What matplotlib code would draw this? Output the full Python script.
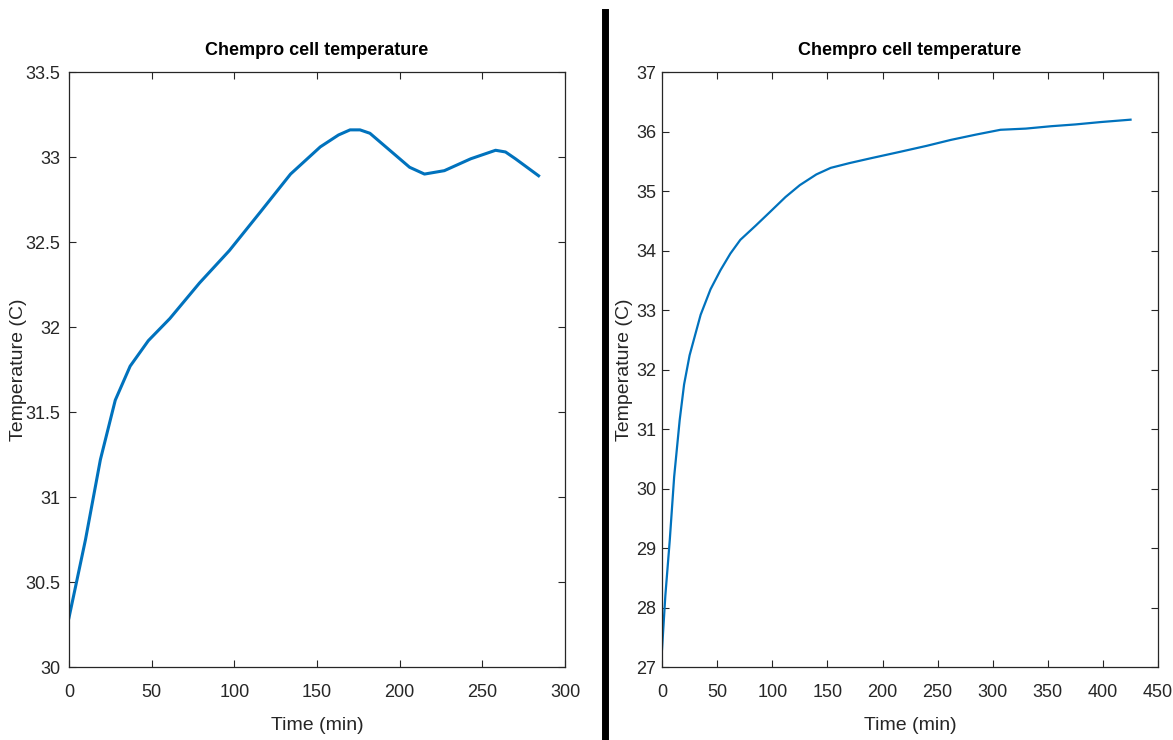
import matplotlib.pyplot as plt
from matplotlib.lines import Line2D

# left run
t_left = [0, 5, 10, 19, 28, 37, 48, 61, 79, 97, 116, 134, 152, 163, 170, 176, 182, 194, 206, 215, 227, 243, 258, 264, 270, 284]
temp_left = [30.29, 30.52, 30.75, 31.22, 31.57, 31.77, 31.92, 32.05, 32.26, 32.45, 32.68, 32.90, 33.06, 33.13, 33.16, 33.16, 33.14, 33.04, 32.94, 32.90, 32.92, 32.99, 33.04, 33.03, 32.99, 32.89]

# right run
t_right = [0, 3, 7, 11, 16, 20, 25, 35, 44, 53, 62, 71, 85, 98, 112, 125, 140, 153, 170, 189, 216, 240, 262, 285, 307, 330, 353, 375, 398, 425]
temp_right = [27.3, 28.2, 29.13, 30.2, 31.15, 31.75, 32.24, 32.92, 33.35, 33.67, 33.95, 34.18, 34.42, 34.65, 34.9, 35.1, 35.28, 35.39, 35.47, 35.55, 35.66, 35.76, 35.86, 35.95, 36.03, 36.05, 36.09, 36.12, 36.16, 36.2]

left_ticks_y = [30, 30.5, 31, 31.5, 32, 32.5, 33, 33.5]
left_ticks_x = [0, 50, 100, 150, 200, 250, 300]
right_ticks_y = [27, 28, 29, 30, 31, 32, 33, 34, 35, 36, 37]
right_ticks_x = [0, 50, 100, 150, 200, 250, 300, 350, 400, 450]

plt.rcParams['font.family'] = ['Liberation Sans', 'DejaVu Sans']
blue = '#0072BD'
grey = '#262626'

fig = plt.figure(figsize=(11.73, 7.40), dpi=100)
ax1 = fig.add_axes([0.0588, 0.0986, 0.4229, 0.804])
ax2 = fig.add_axes([0.5644, 0.0986, 0.4229, 0.804])

def style(ax, xt, yt, xlim, ylim, ylab_x, ypad):
    ax.set_xlim(xlim)
    ax.set_ylim(ylim)
    ax.set_xticks(xt)
    ax.set_yticks(yt)
    ax.set_yticklabels([('%g' % v) for v in yt])
    ax.tick_params(direction='in', top=True, right=True, length=5, width=0.8,
                   labelsize=13, colors=grey)
    ax.tick_params(axis='x', pad=12)
    ax.tick_params(axis='y', pad=ypad)
    for s in ax.spines.values():
        s.set_color(grey)
        s.set_linewidth(0.9)
    ax.set_title('Chempro cell temperature', fontsize=13, fontweight='bold', pad=12)
    ax.set_xlabel('Time (min)', fontsize=14, color=grey, labelpad=12)
    ax.set_ylabel('Temperature (C)', fontsize=14, color=grey)
    ax.yaxis.set_label_coords(ylab_x, 0.5)

ax1.plot(t_left, temp_left, color=blue, lw=2.2)
style(ax1, left_ticks_x, left_ticks_y, (0, 300), (30, 33.5), -0.085, 6)

ax2.plot(t_right, temp_right, color=blue, lw=1.6)
style(ax2, right_ticks_x, right_ticks_y, (0, 450), (27, 37), -0.058, 4)

# thick divider between the two panels
fig.add_artist(Line2D([605 / 1173, 605 / 1173], [0, 1 - 12 / 740], color='black', lw=5))

fig.savefig('out.png', dpi=100)
